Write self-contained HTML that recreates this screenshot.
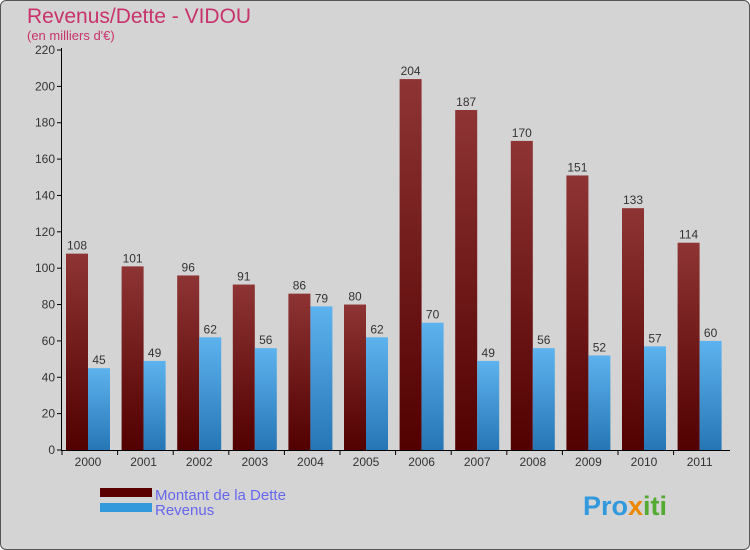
<!DOCTYPE html>
<html><head><meta charset="utf-8"><style>
body{margin:0;background:#fff}
#wrap{position:relative;width:748px;height:548px;border:1px solid #555;border-radius:6px;background:#d4d4d4;overflow:hidden;font-family:"Liberation Sans",sans-serif}
text{font-family:"Liberation Sans",sans-serif}
</style></head><body>
<div id="wrap">
<svg id="chart" width="750" height="550" style="position:absolute;left:-1px;top:-1px">
<defs>
<linearGradient id="gd" x1="0" y1="0" x2="0" y2="1"><stop offset="0" stop-color="#8e3434"/><stop offset="1" stop-color="#520000"/></linearGradient>
<linearGradient id="gr" x1="0" y1="0" x2="0" y2="1"><stop offset="0" stop-color="#5db3ee"/><stop offset="1" stop-color="#2676b5"/></linearGradient>
</defs>
<text x="27" y="23" font-size="21" fill="#c8336b">Revenus/Dette - VIDOU</text>
<text x="27" y="40" font-size="13" fill="#c8336b">(en milliers d'€)</text>
<g id="g"></g>
<rect x="100" y="488" width="52" height="9" fill="#5a0000"/>
<rect x="100" y="503" width="52" height="9" fill="#3399dd"/>
<text x="155" y="500" font-size="15" fill="#6666ee">Montant de la Dette</text>
<text x="155" y="515" font-size="15" fill="#6666ee">Revenus</text>
<text x="583" y="515" font-size="27" font-weight="bold" fill="#3399dd">Pro<tspan fill="#ee8800">x</tspan><tspan fill="#55aa33">iti</tspan></text>
</svg>
</div>
<script>
const years=["2000","2001","2002","2003","2004","2005","2006","2007","2008","2009","2010","2011"];
const dette=[108,101,96,91,86,80,204,187,170,151,133,114];
const revenus=[45,49,62,56,79,62,70,49,56,52,57,60];
const yTicks=[0,20,40,60,80,100,120,140,160,180,200,220];
const NS="http://www.w3.org/2000/svg";
const g=document.getElementById('g');
const x0=62,step=55.6,bw=22,yBase=450,yTop=50,yMax=220;
const y=v=>yBase-v/yMax*(yBase-yTop);
const gx=i=>x0+i*step;
function el(t,a,txt){const e=document.createElementNS(NS,t);for(const k in a)e.setAttribute(k,a[k]);if(txt!==undefined)e.textContent=txt;g.appendChild(e);return e;}
yTicks.forEach(v=>{
 const l=el('line',{x1:57,x2:62,y1:y(v),y2:y(v),stroke:'#000'});
 
 
 const t=el('text',{x:55,y:y(v)+4,'font-size':12,fill:'#333','text-anchor':'end'},v);
 
 
});
years.forEach((yr,i)=>{
 const b1=el('rect',{x:gx(i)+4,y:y(dette[i]),width:bw,height:yBase-y(dette[i]),fill:'url(#gd)'});
 
 
 const b2=el('rect',{x:gx(i)+4+bw,y:y(revenus[i]),width:bw,height:yBase-y(revenus[i]),fill:'url(#gr)'});
 
 
 const t1=el('text',{x:gx(i)+4+bw/2,y:y(dette[i])-4,'font-size':12,fill:'#333','text-anchor':'middle'},dette[i]);
 
 
 const t2=el('text',{x:gx(i)+4+bw*1.5,y:y(revenus[i])-4,'font-size':12,fill:'#333','text-anchor':'middle'},revenus[i]);
 
 
 const tk=el('line',{x1:gx(i),x2:gx(i),y1:450,y2:455,stroke:'#000'});
 
 
 const xl=el('text',{x:gx(i)+4+bw,y:466,'font-size':12,fill:'#333','text-anchor':'middle'},yr);
 
 
});
const ya=el('line',{x1:61.5,x2:61.5,y1:48,y2:450,stroke:'#000'});


const xa=el('line',{x1:61,x2:730,y1:450.5,y2:450.5,stroke:'#000'});


</script>
</body></html>
